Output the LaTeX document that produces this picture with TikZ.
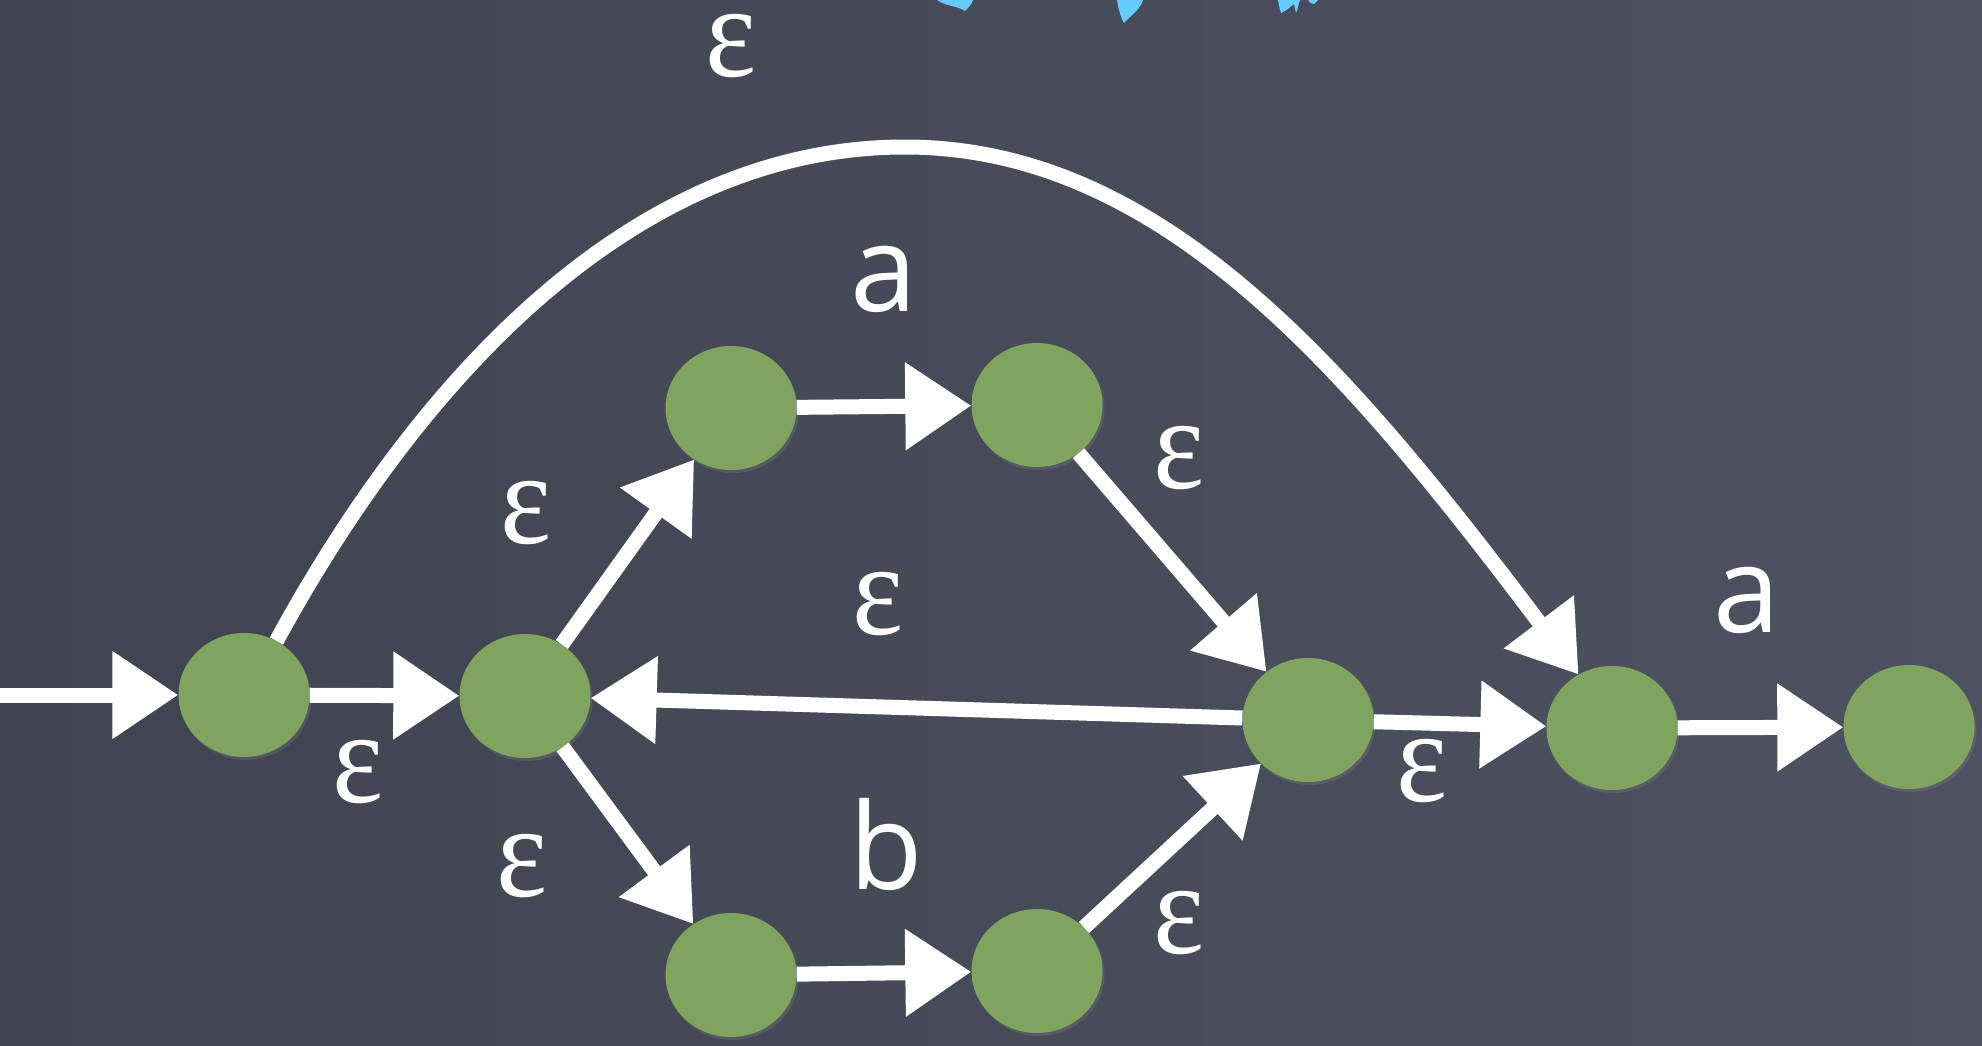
\documentclass[tikz,border=0pt]{standalone}
\usepackage{fontspec}
\usetikzlibrary{arrows.meta,shapes.geometric,shadows}
\newfontfamily\lblfont{Open Sans}
\newfontfamily\epsfont{Liberation Serif}
\definecolor{boardL}{RGB}{64,67,80}
\definecolor{boardR}{RGB}{78,82,96}
\definecolor{stategreen}{RGB}{127,164,95}
\definecolor{dripblue}{RGB}{102,204,255}
\tikzset{
  state/.style={ellipse, fill=stategreen, draw=none, minimum width=131pt, minimum height=124pt, inner sep=0pt,
    drop shadow={opacity=0.3, shadow xshift=2pt, shadow yshift=-3pt}},
  chalk/.style={draw=white, line width=15pt, -{Triangle[length=66pt,width=84pt]}},
  sym/.style={text=white, inner sep=0pt, font=\lblfont\fontsize{120}{120}\selectfont},
  epsl/.style={text=white, inner sep=0pt, xscale=0.92, font=\epsfont\fontsize{132}{132}\selectfont},
}
\begin{document}
\begin{tikzpicture}[x=1pt,y=-1pt]
\useasboundingbox (0,0) rectangle (1982,1045);
\shade[left color=boardL, right color=boardR] (0,0) rectangle (1982,1045);
% blue drips at top edge
\fill[dripblue] (937,0) .. controls (945,6) and (958,6) .. (965,11) .. controls (970,6) and (972,3) .. (973,0) -- cycle;
\fill[dripblue] (1117,0) .. controls (1118,8) and (1121,18) .. (1124,23) .. controls (1130,16) and (1140,10) .. (1143,0) -- cycle;
\fill[dripblue] (1278,0) .. controls (1279,6) and (1280,10) .. (1281,13) .. controls (1286,11) and (1290,7) .. (1294,4) -- (1296,13) .. controls (1298,9) and (1298,5) .. (1300,0) -- cycle;
\fill[dripblue] (1308,0) .. controls (1310,3) and (1312,4) .. (1314,4) .. controls (1316,2) and (1317,1) .. (1318,0) -- cycle;

% states
\node[state] (n0) at (244,695) {};
\node[state] (n1) at (525,696) {};
\node[state] (n2) at (731,408) {};
\node[state] (n3) at (1037,405) {};
\node[state] (n4) at (731,975) {};
\node[state] (n5) at (1037,971) {};
\node[state] (n6) at (1308,720) {};
\node[state] (n7) at (1612,728) {};
\node[state] (n8) at (1909,727) {};
\coordinate (start) at (0,695);

% transitions
\draw[chalk] (start) -- (n0);
\draw[chalk] (n0) -- (n1);
\draw[chalk] (n1) -- (n2);
\draw[chalk] (n1) -- (n4);
\draw[chalk] (n2) -- (n3);
\draw[chalk] (n4) -- (n5);
\draw[chalk] (n3) -- (n6);
\draw[chalk] (n5) -- (n6);
\draw[chalk] (n6) -- (n1);
\draw[chalk] (n6) -- (n7);
\draw[chalk] (n7) -- (n8);
\draw[chalk] (n0.59) .. controls (393,427) and (605,147) .. (905,147)
                    .. controls (1165,147) and (1353,376) .. (n7.122);

% labels
\node[epsl] (e1) at (731,46) {ε};
\node[sym] (la1) at (884,279) {a};
\node[epsl] (e2) at (526,513) {ε};
\node[epsl] (e3) at (1179,458) {ε};
\node[epsl] (e4) at (878,604) {ε};
\node[sym] (la2) at (1747,600) {a};
\node[epsl] (e5) at (358,772) {ε};
\node[epsl] (e6) at (1422,771) {ε};
\node[epsl] (e7) at (522,866) {ε};
\node[sym] (lb) at (886,844) {b};
\node[epsl] (e8) at (1179,923) {ε};
\end{tikzpicture}
\end{document}
